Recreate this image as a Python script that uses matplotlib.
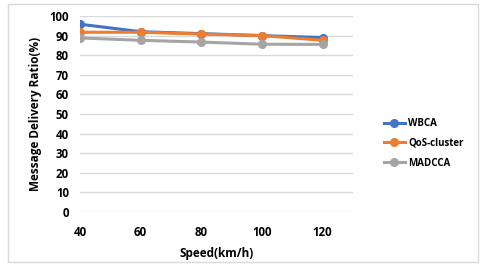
import matplotlib.pyplot as plt
from matplotlib.patches import Rectangle

# valores
speed = [40, 60, 80, 100, 120]
wbca = [95.8, 92, 91, 90, 89]
qos_cluster = [91.7, 91.7, 90.8, 90, 87.6]
madcca = [88.8, 87.6, 86.7, 85.6, 85.5]
yticks = list(range(0, 101, 10))

plt.rcParams['font.family'] = ['Open Sans', 'DejaVu Sans']

fig = plt.figure(figsize=(4.88, 2.66), dpi=100)
fig.patches.append(Rectangle((8 / 488, 4 / 266), 470 / 488, 258 / 266, transform=fig.transFigure,
                             fill=False, edgecolor='#D9D9D9', linewidth=1))
ax = fig.add_axes([80 / 488, 1 - 212 / 266, 273 / 488, 196 / 266])

ax.plot(speed, wbca, color='#4472C4', marker='o', markersize=5.5, linewidth=2.2, label='WBCA')
ax.plot(speed, qos_cluster, color='#ED7D31', marker='o', markersize=5.5, linewidth=2.2, label='QoS-cluster')
ax.plot(speed, madcca, color='#A5A5A5', marker='o', markersize=5.5, linewidth=2.2, label='MADCCA')

ax.set_xlim(40, 130)
ax.set_ylim(0, 100)
ax.set_xticks(speed)
ax.set_yticks(yticks)
ax.grid(axis='y', color='#D9D9D9', linewidth=1)
ax.set_axisbelow(True)
for s in ax.spines.values():
    s.set_visible(False)
ax.tick_params(axis='y', length=0, labelsize=8.3, pad=8)
ax.tick_params(axis='x', length=0, labelsize=8.3, pad=10)
for lbl in ax.get_xticklabels() + ax.get_yticklabels():
    lbl.set_fontweight('bold')

ax.set_xlabel('Speed(km/h)', fontsize=8.5, fontweight='bold', labelpad=6)
ax.set_ylabel('Message Delivery Ratio(%)', fontsize=8.5, fontweight='bold', labelpad=5)

leg = ax.legend(loc='center left', bbox_to_anchor=(1.08, 0.35), frameon=False,
                fontsize=7, handlelength=2.2, labelspacing=0.9, handletextpad=0.3)
for t in leg.get_texts():
    t.set_fontweight('bold')

plt.savefig('out.png', dpi=100)
